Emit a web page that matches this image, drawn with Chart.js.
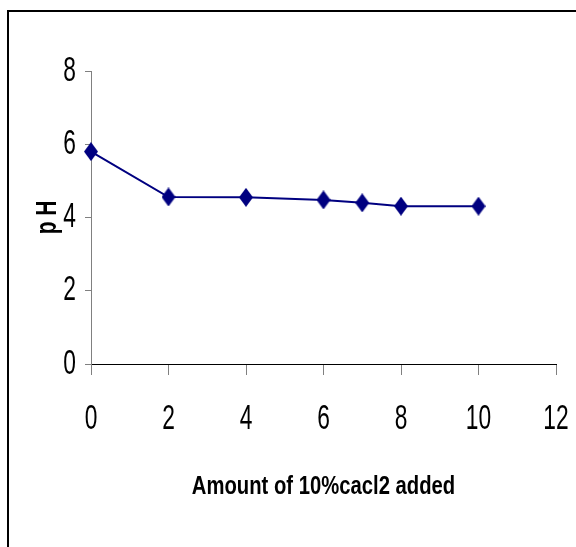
<!DOCTYPE html>
<html>
<head>
<meta charset="utf-8">
<script src="https://cdn.jsdelivr.net/npm/chart.js@4/dist/chart.umd.min.js"></script>
<style>
  html, body { margin: 0; padding: 0; background: #ffffff; }
  #wrap { width: 576px; height: 547px; }
</style>
</head>
<body>
<div id="wrap"><canvas id="c" width="576" height="547"></canvas></div>
<script>
// Amount of 10% CaCl2 added vs. resulting pH
const amountAdded = [0, 2, 4, 6, 7, 8, 10];
const phValues = [5.8, 4.56, 4.55, 4.48, 4.4, 4.31, 4.31];

const xTitle = 'Amount of 10%cacl2 added';
const yTitle = 'p H';

const FONT = "'Liberation Sans', Arial, sans-serif";
const NAVY = '#000080';

const TICK_SIZE = 35;
const YTITLE_SIZE = 29;
const XTITLE_SIZE = 25;

// Horizontal condensing per font size, giving a narrow typeface look
const condense = { [TICK_SIZE]: 0.65, [YTITLE_SIZE]: 0.72, [XTITLE_SIZE]: 0.81 };

const canvas = document.getElementById('c');
const ctx2d = canvas.getContext('2d');
(function narrowText(ctx) {
  const fill = ctx.fillText.bind(ctx);
  const measure = ctx.measureText.bind(ctx);
  const factor = (font) => {
    const m = /(\d+(?:\.\d+)?)px/.exec(font || '');
    return m && condense[Math.round(parseFloat(m[1]))] || 1;
  };
  ctx.fillText = function (text, x, y, maxWidth) {
    const sx = factor(this.font);
    if (sx === 1) return fill(text, x, y, maxWidth);
    this.save();
    this.translate(x, y);
    this.scale(sx, 1);
    fill(text, 0, 0);
    this.restore();
  };
  ctx.measureText = function (text) {
    const m = measure(text);
    const sx = factor(this.font);
    if (sx === 1) return m;
    return {
      width: m.width * sx,
      actualBoundingBoxLeft: m.actualBoundingBoxLeft * sx,
      actualBoundingBoxRight: m.actualBoundingBoxRight * sx,
      actualBoundingBoxAscent: m.actualBoundingBoxAscent,
      actualBoundingBoxDescent: m.actualBoundingBoxDescent,
      fontBoundingBoxAscent: m.fontBoundingBoxAscent,
      fontBoundingBoxDescent: m.fontBoundingBoxDescent
    };
  };
})(ctx2d);

// Tall diamond marker
function makeDiamond(w, h, color) {
  const cv = document.createElement('canvas');
  cv.width = w; cv.height = h;
  const g = cv.getContext('2d');
  g.fillStyle = color;
  g.beginPath();
  g.moveTo(w / 2, 0);
  g.lineTo(w, h / 2);
  g.lineTo(w / 2, h);
  g.lineTo(0, h / 2);
  g.closePath();
  g.fill();
  return cv;
}
const diamond = makeDiamond(14, 19, NAVY);

// Frame lines along the top and left of the figure
const framePlugin = {
  id: 'frame',
  beforeDraw(chart) {
    const ctx = chart.ctx;
    ctx.save();
    ctx.fillStyle = '#ffffff';
    ctx.fillRect(0, 0, chart.width, chart.height);
    ctx.strokeStyle = '#000000';
    ctx.lineWidth = 2;
    ctx.beginPath();
    ctx.moveTo(8, chart.height);
    ctx.lineTo(8, 11);
    ctx.lineTo(chart.width, 11);
    ctx.stroke();
    ctx.restore();
  }
};

new Chart(canvas, {
  type: 'line',
  data: {
    datasets: [{
      data: amountAdded.map((x, i) => ({ x: x, y: phValues[i] })),
      borderColor: NAVY,
      backgroundColor: NAVY,
      borderWidth: 2,
      pointStyle: diamond,
      pointRadius: 8,
      pointHoverRadius: 8,
      tension: 0,
      fill: false,
      clip: false
    }]
  },
  options: {
    responsive: false,
    animation: false,
    layout: { padding: { left: 0, top: 71, right: 20, bottom: 0 } },
    plugins: {
      legend: { display: false },
      tooltip: { enabled: false }
    },
    scales: {
      x: {
        type: 'linear',
        min: 0, max: 12,
        afterFit(scale) {
          scale.height = 183;
          scale.paddingRight = 0;
          scale.paddingLeft = 0;
        },
        ticks: {
          stepSize: 2,
          color: '#000000',
          padding: 23,
          font: { family: FONT, size: TICK_SIZE }
        },
        grid: {
          drawOnChartArea: false,
          drawTicks: true,
          tickLength: 11,
          color: '#808080'
        },
        border: { display: true, color: '#000000', width: 1 },
        title: {
          display: true,
          text: xTitle,
          color: '#000000',
          padding: { top: 0, bottom: 45 },
          font: { family: FONT, size: XTITLE_SIZE, weight: 'bold' }
        }
      },
      y: {
        type: 'linear',
        min: 0, max: 8,
        afterFit(scale) { scale.width = 91; },
        ticks: {
          stepSize: 2,
          color: '#000000',
          padding: 9,
          font: { family: FONT, size: TICK_SIZE }
        },
        grid: {
          drawOnChartArea: false,
          drawTicks: true,
          tickLength: 6,
          color: '#808080'
        },
        border: { display: true, color: '#808080', width: 1 },
        title: {
          display: true,
          text: yTitle,
          color: '#000000',
          padding: { top: 31, bottom: 0 },
          font: { family: FONT, size: YTITLE_SIZE, weight: 'bold' }
        }
      }
    }
  },
  plugins: [framePlugin]
});
</script>
</body>
</html>
